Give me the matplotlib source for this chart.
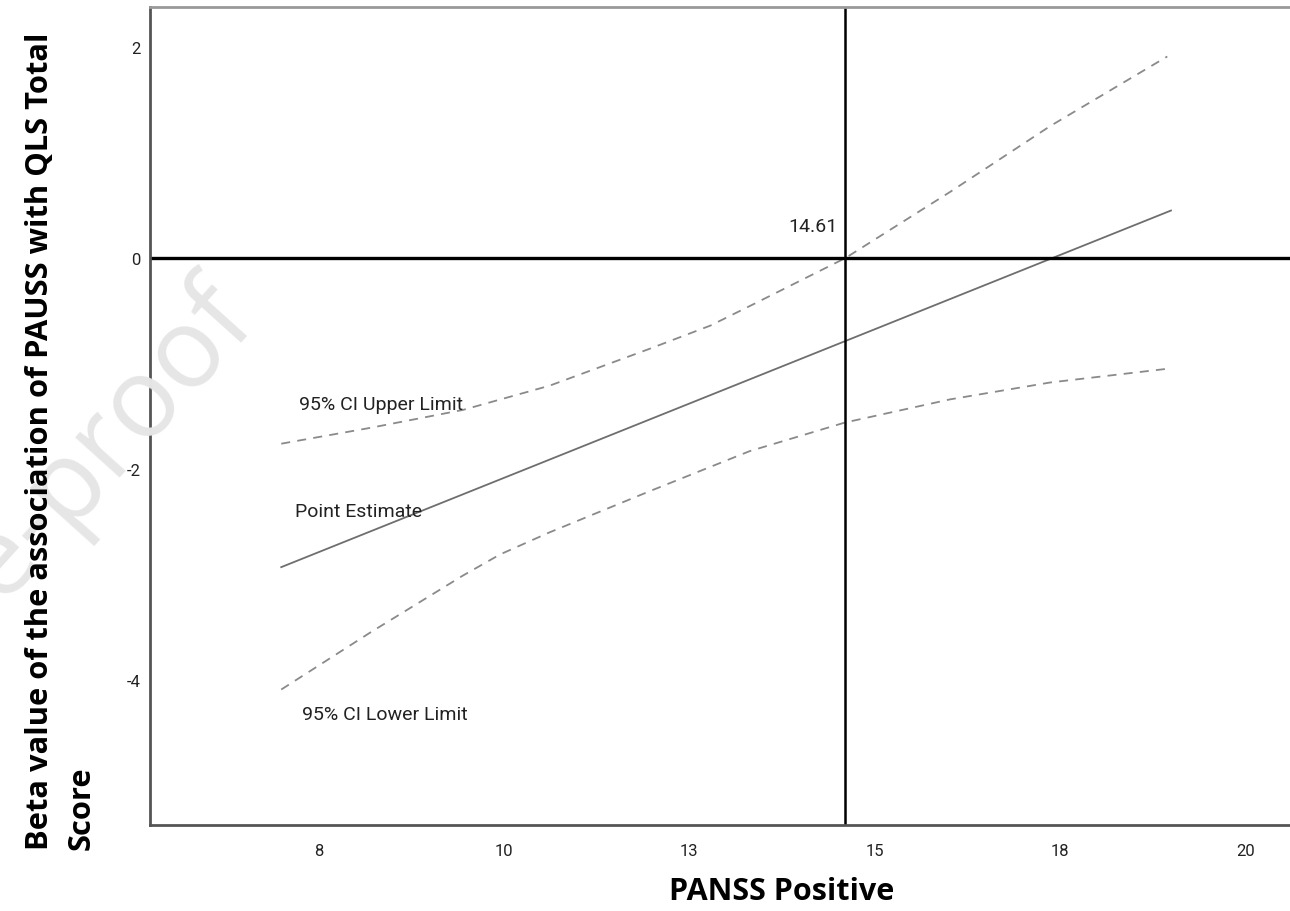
import matplotlib.pyplot as plt
from matplotlib import font_manager

plt.rcParams["axes.unicode_minus"] = False

# values
x_est = [7.0, 19.0]
y_est = [-2.93, 0.45]

x_upper = [7.0, 8.2, 9.45, 10.62, 11.97, 12.79, 13.32, 14.61, 16.02, 17.37, 18.95]
y_upper = [-1.76, -1.61, -1.44, -1.21, -0.86, -0.64, -0.455, 0.0, 0.626, 1.25, 1.91]

x_lower = [7.0, 8.2, 9.45, 9.95, 10.62, 11.97, 13.32, 14.6, 16.02, 17.37, 18.95]
y_lower = [-4.09, -3.55, -3.01, -2.81, -2.60, -2.21, -1.83, -1.56, -1.34, -1.18, -1.05]

jn_point = 14.61
xtick_pos = [7.5, 10, 12.5, 15, 17.5, 20]
xtick_lab = ["8", "10", "13", "15", "18", "20"]
ytick_pos = [2, 0, -2, -4]

names = {f.name for f in font_manager.fontManager.ttflist}
narrow = "Liberation Sans Narrow" if "Liberation Sans Narrow" in names else "Roboto"
small = [narrow, "DejaVu Sans"]
bold = ["Open Sans", "DejaVu Sans"]

fig = plt.figure(figsize=(12.9, 9.12), dpi=100)
ax = fig.add_axes([150 / 1290, 86 / 912, 1150 / 1290, 818 / 912])
ax.set_facecolor("none")

# watermark, mostly outside the canvas as in the source
fig.text(262 / 1290, 1 - 330 / 912, "Journal Pre-proof", rotation=48,
         rotation_mode="anchor", ha="right", va="baseline",
         fontsize=80, color="#e6e6e6", family=["Open Sans", "DejaVu Sans"], zorder=0)

ax.plot(x_est, y_est, color="#6e6e6e", lw=1.3)
ax.plot(x_upper, y_upper, color="#8a8a8a", lw=1.3, ls=(0, (5, 4)))
ax.plot(x_lower, y_lower, color="#8a8a8a", lw=1.3, ls=(0, (5, 4)))

ax.axhline(0, color="black", lw=2.4)
ax.axvline(jn_point, color="black", lw=1.8)

ax.set_xlim(5.23, 20.74)
ax.set_ylim(-5.374, 2.379)

ax.set_xticks(xtick_pos)
ax.set_xticklabels(xtick_lab)
ax.set_yticks(ytick_pos)
ax.tick_params(length=0, labelsize=12, colors="#222222")
ax.tick_params(axis="x", pad=13)
ax.tick_params(axis="y", pad=7)
for lab in ax.get_xticklabels() + ax.get_yticklabels():
    lab.set_family(small)

for s in ["left", "bottom"]:
    ax.spines[s].set_color("#555555")
    ax.spines[s].set_linewidth(2)
ax.spines["top"].set_color("#999999")
ax.spines["top"].set_linewidth(2)
ax.spines["right"].set_visible(False)

ax.text(7.24, -1.38, "95% CI Upper Limit", fontsize=14, family=small, color="#222222", va="center")
ax.text(7.19, -2.40, "Point Estimate", fontsize=14, family=small, color="#222222", va="center")
ax.text(7.28, -4.32, "95% CI Lower Limit", fontsize=14, family=small, color="#222222", va="center")
ax.text(jn_point - 0.11, 0.30, "14.61", fontsize=14, family=small, color="#222222", ha="right", va="center")

fig.text(782 / 1290, 1 - 892 / 912, "PANSS Positive", fontsize=22, fontweight="bold",
         family=bold, ha="center", va="center")
fig.text(25 / 1290, 1 - 850 / 912, "Beta value of the association of PAUSS with QLS Total\nScore",
         rotation=90, fontsize=22.2, fontweight="bold", family=bold,
         ha="left", va="bottom", multialignment="left", linespacing=1.5)

fig.savefig("out.png", dpi=100)
